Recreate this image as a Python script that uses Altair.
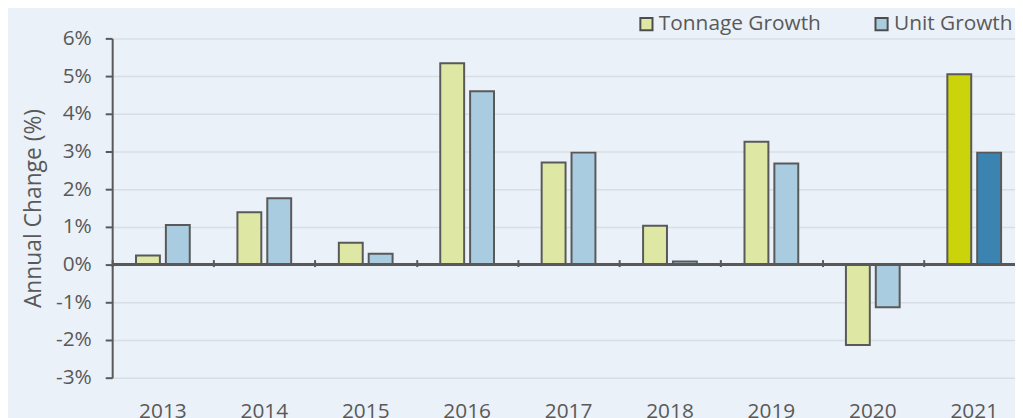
import altair as alt
import pandas as pd

years = ["2013", "2014", "2015", "2016", "2017", "2018", "2019", "2020", "2021"]
tonnage = [0.24, 1.39, 0.58, 5.34, 2.71, 1.03, 3.26, -2.13, 5.05]
unit = [1.05, 1.76, 0.29, 4.60, 2.97, 0.08, 2.68, -1.13, 2.97]
series = ["Tonnage Growth", "Unit Growth"]
y_ticks = [-3, -2, -1, 0, 1, 2, 3, 4, 5, 6]

rows = []
for i, yr in enumerate(years):
    for s, vals in zip(series, [tonnage, unit]):
        key = s + (" 2021" if yr == "2021" else "")
        rows.append({"year": yr, "series": s, "key": key, "value": vals[i]})
df = pd.DataFrame(rows)

FONT = "Open Sans"
FS = 21
GRAY = "#595959"
BG = "#EAF1F8"

xscale = alt.Scale(domain=years, range=[0, 920], paddingInner=0.47, paddingOuter=0.235)
xscale_ticks = alt.Scale(domain=years, range=[0, 920], paddingInner=0, paddingOuter=0)
yscale = alt.Scale(domain=[-3, 6], nice=False, zero=False)

color_scale = alt.Scale(
    domain=["Tonnage Growth", "Unit Growth", "Tonnage Growth 2021", "Unit Growth 2021"],
    range=["#DFE7A5", "#A9CCE1", "#CBD30B", "#3B84B2"],
)

y_axis = alt.Axis(title="Annual Change (%)", values=y_ticks,
                  labelExpr="datum.value + '%'",
                  domainColor=GRAY, domainWidth=2,
                  tickColor=GRAY, tickWidth=2, tickSize=7,
                  labelPadding=14, labelFont=FONT, labelFontSize=FS,
                  labelColor=GRAY, titleFont=FONT, titleFontSize=23,
                  titleFontWeight="normal", titleColor=GRAY,
                  titlePadding=10,
                  grid=True, gridColor="#D9DEE3", gridWidth=1.5)

bars = alt.Chart(df).mark_bar(stroke=GRAY, strokeWidth=2).encode(
    x=alt.X("year:N", scale=xscale, sort=years,
            axis=alt.Axis(title=None, domain=False, ticks=False, labelPadding=23,
                          labelFont=FONT, labelFontSize=FS, labelColor=GRAY,
                          labelAngle=0, grid=False)),
    xOffset=alt.XOffset("series:N", sort=series,
                        scale=alt.Scale(paddingInner=0.2, paddingOuter=0)),
    y=alt.Y("value:Q", scale=yscale, axis=y_axis),
    color=alt.Color("key:N", scale=color_scale,
                    legend=alt.Legend(values=series, title=None, orient="none",
                                      legendX=528, legendY=-25, direction="horizontal",
                                      symbolType="square", symbolSize=150,
                                      symbolStrokeColor="#4D4D4D", symbolStrokeWidth=2,
                                      symbolOpacity=1, labelLimit=400,
                                      labelFont=FONT, labelFontSize=21, labelColor=GRAY,
                                      labelOffset=2, columnPadding=50)),
)

zero = alt.Chart(df).mark_rule(color=GRAY, strokeWidth=2).encode(
    y=alt.Y("zero_val:Q", scale=yscale, axis=y_axis)
).transform_calculate(zero_val="0")

tick_axis = alt.Chart(pd.DataFrame({"year": years})).mark_point(opacity=0).encode(
    x=alt.X("year:N", scale=xscale_ticks, sort=years,
            axis=alt.Axis(title=None, labels=False, domain=False, ticks=True,
                          tickBand="extent", tickColor=GRAY, tickWidth=2,
                          tickSize=7, offset=-230, grid=False)),
)

chart = alt.layer(bars, zero, tick_axis).resolve_scale(x="independent").resolve_axis(
    x="independent").properties(
    width=910, height=342,
    autosize=alt.AutoSizeParams(type="none"),
    padding={"left": 105, "top": 29, "right": 0, "bottom": 39},
    background=BG,
).configure_view(stroke=None, fill=BG)

chart.save("out.html", embed_options={"renderer": "svg", "actions": False})
